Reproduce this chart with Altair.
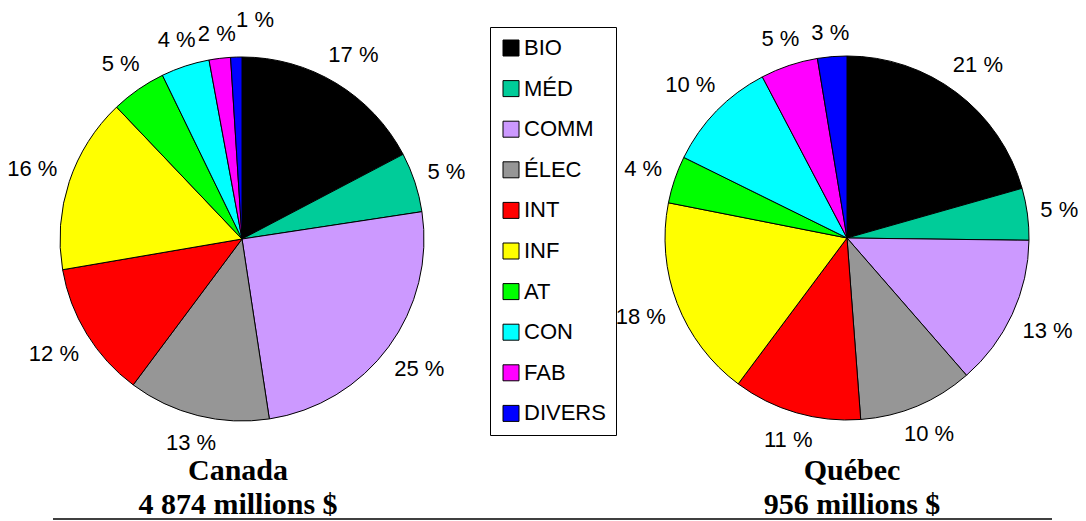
import math
import altair as alt
import pandas as pd

# ---------------- data ----------------
categories = ["BIO", "MÉD", "COMM", "ÉLEC", "INT", "INF", "AT", "CON", "FAB", "DIVERS"]
colors = ["#000000", "#00CC99", "#CC99FF", "#969696", "#FF0000",
          "#FFFF00", "#00FF00", "#00FFFF", "#FF00FF", "#0000FF"]
canada_pct = [17.3, 5.3, 25.0, 12.6, 12.1, 15.6, 4.9, 4.3, 1.9, 1.0]
quebec_pct = [20.6, 4.6, 13.4, 10.2, 11.4, 17.9, 4.2, 10.0, 5.1, 2.6]
regions = ["Canada", "Québec"]
totals = ["4 874 millions $", "956 millions $"]

# ---------------- layout ----------------
W, H = 1070, 513
R = 182
centers = {"Canada": (234, 231), "Québec": (839, 230)}
title_x = {"Canada": 230, "Québec": 844}
LABEL_BASE = 194
HALF_H = 10
MIN_GAP = 2.9      # in percent of the circle
PUSH_EXTRA = 14    # extra distance for labels pushed aside to avoid overlap


def pie_table(vals):
    total = sum(vals)
    cum = 0.0
    prev = None
    rows = []
    for i, (c, v) in enumerate(zip(categories, vals)):
        pct = v / total * 100
        mid = cum + pct / 2
        cum += pct
        pos = mid if prev is None else max(mid, prev + MIN_GAP)
        pushed = pos > mid
        prev = pos
        text = f"{round(pct)} %"
        w = sum(12.2 if ch.isdigit() else 6.1 if ch == " " else 19.6 for ch in text)
        a = pos / 100 * 2 * math.pi
        r = LABEL_BASE + w / 2 * abs(math.sin(a)) + HALF_H * abs(math.cos(a))
        if pushed:
            r += PUSH_EXTRA
        rows.append(dict(cat=c, idx=i, value=pct, label=text, lab_pos=pos, lab_r=r))
    return pd.DataFrame(rows)


color_enc = alt.Color(
    "cat:N",
    scale=alt.Scale(domain=categories, range=colors),
    legend=alt.Legend(
        title=None, orient="none", legendX=482, legendY=19,
        symbolType="square", symbolSize=256, symbolStrokeColor="black",
        symbolStrokeWidth=1, labelFont="Liberation Sans", labelFontSize=22,
        labelColor="black", labelOffset=2, rowPadding=18.6, padding=10,
        strokeColor="black", fillColor="white", labelLimit=300,
    ),
)

layers = []
for region, vals in zip(regions, [canada_pct, quebec_pct]):
    df = pie_table(vals)
    cx, cy = centers[region]
    arc = alt.Chart(df).mark_arc(outerRadius=R, stroke="black", strokeWidth=1).encode(
        theta=alt.Theta("value:Q", stack=True, scale=alt.Scale(domain=[0, 100])),
        color=color_enc,
        order=alt.Order("idx:Q"),
        x=alt.value(cx),
        y=alt.value(cy),
    )
    txt = alt.Chart(df).mark_text(
        font="Liberation Sans", fontSize=22, align="center", baseline="middle", color="black"
    ).encode(
        theta=alt.Theta("lab_pos:Q", stack=False, scale=alt.Scale(domain=[0, 100])),
        radius=alt.Radius("lab_r:Q", scale=None),
        text="label:N",
        x=alt.value(cx),
        y=alt.value(cy),
    )
    layers += [arc, txt]

titles_df = pd.DataFrame({"region": regions, "total": totals})
for region in regions:
    sub = titles_df[titles_df.region == region]
    t1 = alt.Chart(sub).mark_text(
        font="Liberation Serif", fontSize=30, fontWeight="bold", align="center",
        baseline="alphabetic", color="black"
    ).encode(text="region:N", x=alt.value(title_x[region]), y=alt.value(472))
    t2 = alt.Chart(sub).mark_text(
        font="Liberation Serif", fontSize=30, fontWeight="bold", align="center",
        baseline="alphabetic", color="black"
    ).encode(text="total:N", x=alt.value(title_x[region]), y=alt.value(506))
    layers += [t1, t2]

rule = alt.Chart(pd.DataFrame({"k": [0]})).mark_rule(color="black", strokeWidth=1.5).encode(
    x=alt.value(45), x2=alt.value(1044), y=alt.value(511)
)
layers.append(rule)

chart = alt.layer(*layers).properties(
    width=W, height=H, autosize=alt.AutoSizeParams(type="none"), padding=0
).configure_view(strokeWidth=0)

chart.save("out.html", embed_options={"renderer": "svg", "actions": False})
